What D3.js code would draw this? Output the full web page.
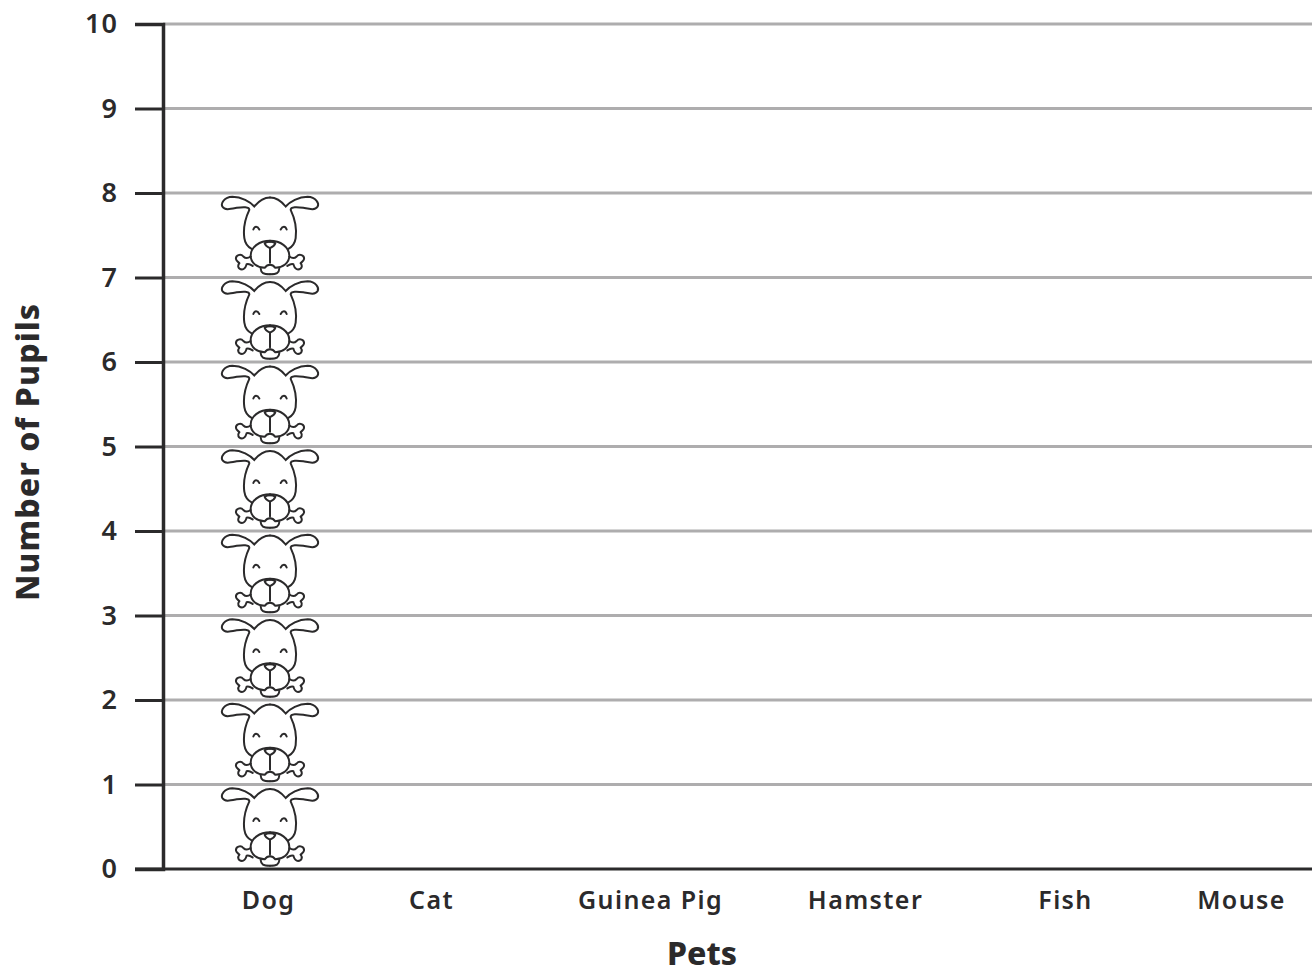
<!DOCTYPE html>
<html>
<head>
<meta charset="utf-8">
<script src="https://cdn.jsdelivr.net/npm/d3@7"></script>
<style>
  html, body { margin: 0; padding: 0; background: #fff; overflow: hidden; }
  text { font-family: "Noto Sans", sans-serif; fill: #2b2a2b; }
</style>
</head>
<body>
<svg id="chart" width="1312" height="969"></svg>
<script>
const pets = ['Dog', 'Cat', 'Guinea Pig', 'Hamster', 'Fish', 'Mouse'];
const pupils = [8, 0, 0, 0, 0, 0];
const yTicks = [0, 1, 2, 3, 4, 5, 6, 7, 8, 9, 10];
const xTitle = 'Pets';
const yTitle = 'Number of Pupils';

const width = 1312, height = 969;
const axisColor = '#2b2a2b', gridColor = '#aeadae';
const svg = d3.select('#chart');

// the label gaps in the original are not even, so ordinal and not band
const x = d3.scaleOrdinal().domain(pets).range([268, 431, 650, 865, 1065, 1241]);
const y = d3.scaleLinear().domain([0, 10]).range([869, 24]);
const left = 163;

// grid
svg.append('g')
  .selectAll('line')
  .data(yTicks.filter(d => d > 0))
  .enter()
  .append('line')
  .attr('x1', left)
  .attr('x2', width)
  .attr('y1', d => y(d))
  .attr('y2', d => y(d))
  .attr('stroke', gridColor)
  .attr('stroke-width', 3);

// y axis
const yAxis = svg.append('g')
  .attr('transform', `translate(${left},0)`)
  .call(d3.axisLeft(y).tickValues(yTicks).tickFormat(d3.format('d')).tickSize(28).tickPadding(17));
yAxis.selectAll('.tick line').attr('stroke', axisColor).attr('stroke-width', 3);
yAxis.select('.domain').attr('stroke', axisColor).attr('stroke-width', 3.5);
yAxis.selectAll('.tick text')
  .style('font-size', '27px')
  .style('font-weight', 600)
  .style('letter-spacing', '1px')
  .style('fill', axisColor);

// x axis, labels only
const xAxis = svg.append('g')
  .attr('transform', `translate(0,${y(0)})`)
  .call(d3.axisBottom(x).tickSize(0).tickPadding(22));
xAxis.select('.domain').remove();
xAxis.selectAll('.tick text')
  .style('font-size', '25px')
  .style('font-weight', 600)
  .style('letter-spacing', '1.4px')
  .style('fill', axisColor);

svg.append('line')
  .attr('x1', 135)
  .attr('x2', width)
  .attr('y1', y(0))
  .attr('y2', y(0))
  .attr('stroke', axisColor)
  .attr('stroke-width', 3);

// titles
svg.append('text')
  .attr('x', 702)
  .attr('y', 965)
  .attr('text-anchor', 'middle')
  .style('font-size', '32px')
  .style('font-weight', 800)
  .text(xTitle);

svg.append('text')
  .attr('transform', 'translate(39,452) rotate(-90)')
  .attr('text-anchor', 'middle')
  .style('font-size', '32px')
  .style('font-weight', 800)
  .style('letter-spacing', '1.1px')
  .text(yTitle);

// dog icon, left half only, mirrored for the right one. units are 1/3 px
const dogHalf = [
  'M0,3 C-20,3 -35,15 -47,30 C-60,16 -85,1 -113,1 C-138,2 -148,20 -143,30 C-136,42 -120,38 -100,34 C-82,31 -62,30 -62,40 C-74,65 -81,95 -77,125 C-75,140 -66,152 -54,158',
  'M-50,99 C-46,88 -38,88 -32,99',
  'M0,133 C-30,133 -58,150 -58,178 C-58,200 -38,213 -16,214 C-10,206 -4,205 0,205',
  'M-16,140 C-8,136 0,136 0,136 M-16,140 C-14,148 -6,152 0,155 L0,198',
  'M-28,216 C-27,230 -20,233 0,233',
  'M-58,180 C-66,186 -74,186 -80,180 C-88,170 -104,176 -102,188 C-101,194 -94,197 -92,200 C-98,208 -96,218 -84,219 C-74,219 -72,208 -70,203 C-64,200 -58,204 -52,208'
];

const slots = pets.flatMap(p => d3.range(pupils[pets.indexOf(p)]).map(i => ({ pet: p, i: i })));

const dog = svg.append('g')
  .selectAll('g')
  .data(slots)
  .enter()
  .append('g')
  .attr('transform', d => `translate(${x(d.pet) + 2},${y(d.i) - 81}) scale(${1 / 3})`);

[1, -1].forEach(side => {
  dog.append('g')
    .attr('transform', `scale(${side},1)`)
    .selectAll('path')
    .data(dogHalf)
    .enter()
    .append('path')
    .attr('d', d => d)
    .attr('fill', 'none')
    .attr('stroke', axisColor)
    .attr('stroke-width', 6)
    .attr('stroke-linecap', 'round');
});
</script>
</body>
</html>
